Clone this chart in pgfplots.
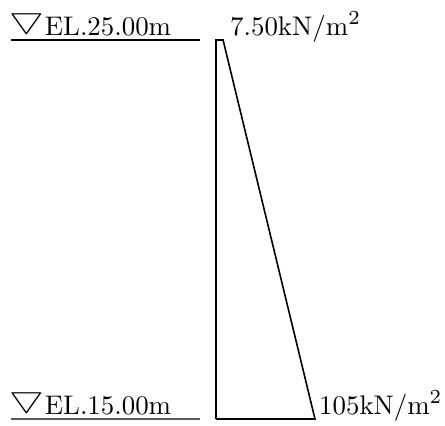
\documentclass[border=0pt]{standalone}
\usepackage{pgfplots}
\usepackage{graphicx}
\pgfplotsset{compat=1.18}
\font\elf=cmr10 at 27pt
\font\elsup=cmr7 at 20pt
\font\elsy=cmsy10 at 27pt
\newcommand{\tri}{\raisebox{7.4bp}{\scalebox{1.45}[1.1]{\elsy\char"35}}}
\newcommand{\sq}{\raisebox{11bp}{\elsup 2}}
\begin{document}
\begin{tikzpicture}
\begin{axis}[
  scale only axis, width=445bp, height=426bp,
  xmin=-229.1, xmax=242.9, ymin=14.815, ymax=26.055,
  hide axis, clip=false,
]
\addplot[draw=none, forget plot] coordinates {(-229.1,14.815) (242.9,26.055)};
\addplot[black, line width=1.6pt] coordinates {(0,15) (0,25) (7.5,25) (105,15) (0,15)};
\addplot[black, line width=1.3pt] coordinates {(-217.4,25) (-17,25)};
\addplot[black!65, line width=1.3pt] coordinates {(-217.4,15) (-17,15)};
\node[anchor=base west, inner sep=0pt] at (axis cs:-219.5,25.106) {\tri\hspace{1bp}\elf EL.25.00m};
\node[anchor=base west, inner sep=0pt] at (axis cs:14.85,25.106) {\elf 7.50kN/m\sq};
\node[anchor=base west, inner sep=0pt] at (axis cs:-219.5,15.106) {\tri\hspace{1bp}\elf EL.15.00m};
\node[anchor=base west, inner sep=0pt] at (axis cs:109.2,15.106) {\elf 105kN/m\sq};
\end{axis}
\end{tikzpicture}
\end{document}
